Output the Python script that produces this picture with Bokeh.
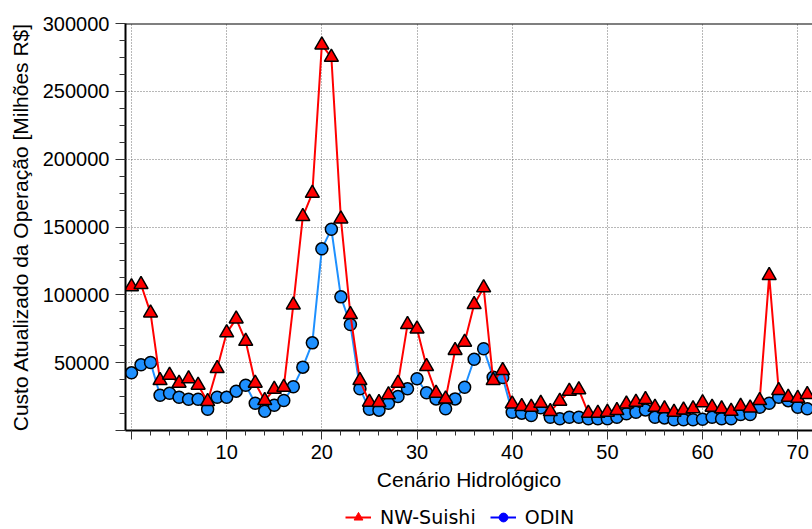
from bokeh.plotting import figure
from bokeh.layouts import column
from bokeh.models import (ColumnDataSource, Legend, LegendItem, SingleIntervalTicker,
                          Span, Range1d, BasicTickFormatter)
from bokeh.embed import file_html
from bokeh.resources import INLINE

# ---- data ----
scenario = list(range(72))
nw_suishi = [106000, 107600, 86700, 36800, 40800, 34900, 38100, 33400, 21400, 45700,
             72000, 82300, 65800, 34900, 22100, 30400, 31900, 92600, 157700, 174900,
             284200, 275100, 156000, 85500, 36800, 20900, 20600, 26300, 34900, 78100,
             74900, 47200, 27500, 23300, 59000, 65100, 92900, 105200, 36800, 44200,
             19600, 17700, 17200, 20100, 14000, 21600, 29000, 30000, 12800, 12800,
             13500, 14700, 19600, 20900, 22800, 17200, 16000, 13500, 15200, 16000,
             20500, 17200, 16000, 14200, 17900, 16700, 22100, 114200, 29500, 24500,
             23800, 26500]
odin = [42500, 48400, 50100, 26000, 27500, 24500, 23000, 23000, 15700, 24500,
        24500, 29000, 33400, 20100, 14200, 18600, 22100, 32200, 46700, 64600,
        133900, 148400, 98500, 78100, 30700, 15700, 15000, 20100, 25100, 30700,
        38100, 27800, 23300, 16000, 23300, 31900, 52500, 60200, 39300, 39000,
        13500, 12800, 11100, 16700, 9800, 8600, 9800, 9800, 8600, 8600,
        8600, 9800, 12300, 13500, 15200, 9800, 9300, 7900, 7900, 7900,
        8300, 9800, 8600, 8600, 11800, 11800, 17200, 20100, 24500, 22000,
        17200, 16000]
series_names = ["NW-Suishi", "ODIN"]
x_title = "Cenário Hidrológico"
y_title = "Custo Atualizado da Operação [Milhões R$]"

src = ColumnDataSource(dict(x=scenario, nw=nw_suishi, odin=odin))

p = figure(width=812, height=499, output_backend="svg", toolbar_location=None,
           x_range=Range1d(-0.63, 71.55), y_range=Range1d(0, 300000),
           min_border_left=125, min_border_right=0, min_border_top=23,
           min_border_bottom=69)
p.outline_line_color = None
p.background_fill_color = "white"
p.border_fill_color = "white"

# axes
p.xaxis.ticker = SingleIntervalTicker(interval=10, num_minor_ticks=5)
p.yaxis.ticker = SingleIntervalTicker(interval=50000, num_minor_ticks=4)
p.yaxis.formatter = BasicTickFormatter(use_scientific=False)
p.xaxis.major_label_overrides = {0: ""}
p.yaxis.major_label_overrides = {0: ""}
p.xaxis.axis_label = x_title
p.yaxis.axis_label = y_title
for ax in (p.xaxis, p.yaxis):
    ax.axis_line_width = 2
    ax.axis_line_color = "black"
    ax.major_tick_line_color = "#333333"
    ax.minor_tick_line_color = "#333333"
    ax.major_tick_in = 0
    ax.minor_tick_in = 0
    ax.major_label_text_font = "Liberation Sans"
    ax.major_label_text_font_size = "20px"
    ax.major_label_text_color = "black"
    ax.axis_label_text_font = "Liberation Sans"
    ax.axis_label_text_font_size = "21px"
    ax.axis_label_text_font_style = "normal"
    ax.axis_label_text_color = "black"
p.xaxis.major_tick_out = 9
p.xaxis.minor_tick_out = 5
p.xaxis.major_label_standoff = 5
p.xaxis.axis_label_standoff = 6
p.yaxis.major_tick_out = 10
p.yaxis.minor_tick_out = 6
p.yaxis.major_label_standoff = 6
p.yaxis.axis_label_standoff = 8

for g in (p.xgrid, p.ygrid):
    g.grid_line_color = "#707070"
    g.grid_line_dash = "1 2"
    g.grid_line_width = 1

p.add_layout(Span(location=300000, dimension="width", line_color="black", line_width=2))

# ODIN first, NW-Suishi on top
p.line("x", "odin", source=src, line_color="#1E90FF", line_width=2)
p.scatter("x", "odin", source=src, marker="circle", size=12,
          fill_color="#1E90FF", line_color="black", line_width=1.5)
p.line("x", "nw", source=src, line_color="#FF0000", line_width=2)
p.scatter("x", "nw", source=src, marker="triangle", size=14,
          fill_color="#FF0000", line_color="black", line_width=1.5)

# ---- legend strip below the chart ----
lg = figure(width=812, height=30, output_backend="svg", toolbar_location=None,
            x_range=Range1d(0, 1), y_range=Range1d(0, 1),
            x_axis_location=None, y_axis_location=None, min_border=0)
lg.grid.visible = False
lg.outline_line_color = None
lg.background_fill_color = "white"
lg.border_fill_color = "white"
proxy = ColumnDataSource(dict(x=[-10, -11], y=[-10, -11]))
l1 = lg.line("x", "y", source=proxy, line_color="#FF0000", line_width=2)
m1 = lg.scatter("x", "y", source=proxy, marker="triangle", fill_color="#FF0000",
                line_color="#FF0000")
l2 = lg.line("x", "y", source=proxy, line_color="#0000FF", line_width=2)
m2 = lg.scatter("x", "y", source=proxy, marker="circle", fill_color="#0000FF",
                line_color="#0000FF")
legend = Legend(items=[LegendItem(label=series_names[0], renderers=[l1, m1]),
                       LegendItem(label=series_names[1], renderers=[l2, m2])],
                orientation="horizontal", location=(220, 1),
                label_text_font="DejaVu Sans", label_text_font_size="19px",
                label_text_color="black",
                glyph_width=26, glyph_height=22, label_standoff=9, spacing=14,
                padding=2, margin=0, border_line_color=None,
                background_fill_alpha=0)
lg.add_layout(legend, "center")

layout = column(p, lg, spacing=0)
open("out.html", "w").write(file_html(layout, INLINE))
